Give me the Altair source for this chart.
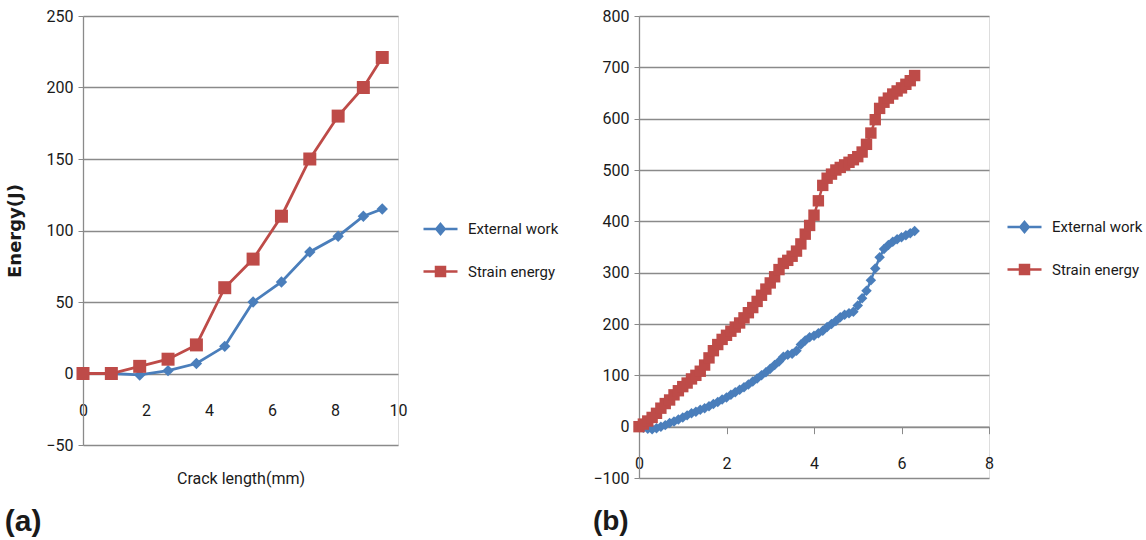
import altair as alt
import pandas as pd

SERIES = ["External work", "Strain energy"]
COLORS = ["#4A7EBB", "#BE4B48"]

# Panel (a)
A_X = [0, 0.9, 1.8, 2.7, 3.6, 4.5, 5.4, 6.3, 7.2, 8.1, 8.9, 9.5]
A_EXT = [0, 0, -1, 2, 7, 19, 50, 64, 85, 96, 110, 115]
A_STR = [0, 0, 5, 10, 20, 60, 80, 110, 150, 180, 200, 221]
A_XTICKS = [0, 2, 4, 6, 8, 10]
A_YTICKS = [-50, 0, 50, 100, 150, 200, 250]

# Panel (b)
B_X = [0.0, 0.1, 0.2, 0.3, 0.4, 0.5, 0.6, 0.7, 0.8, 0.9,
       1.0, 1.1, 1.2, 1.3, 1.4, 1.5, 1.6, 1.7, 1.8, 1.9,
       2.0, 2.1, 2.2, 2.3, 2.4, 2.5, 2.6, 2.7, 2.8, 2.9,
       3.0, 3.1, 3.2, 3.3, 3.4, 3.5, 3.6, 3.7, 3.8, 3.9,
       4.0, 4.1, 4.2, 4.3, 4.4, 4.5, 4.6, 4.7, 4.8, 4.9,
       5.0, 5.1, 5.2, 5.3, 5.4, 5.5, 5.6, 5.7, 5.8, 5.9,
       6.0, 6.1, 6.2, 6.3]
B_EXT = [0, -2, -4, -5, -3, 0, 3, 7, 10, 14,
         18, 22, 26, 29, 33, 36, 40, 44, 48, 53,
         57, 62, 67, 72, 77, 82, 88, 94, 100, 106,
         113, 120, 127, 136, 140, 142, 148, 160, 168, 174,
         177, 182, 187, 194, 200, 206, 213, 218, 221, 224,
         236, 250, 265, 285, 308, 330, 346, 354, 360, 365,
         369, 373, 377, 381]
B_STR = [0, 5, 11, 18, 26, 36, 45, 52, 62, 70,
         78, 85, 93, 100, 108, 120, 134, 148, 160, 170,
         178, 186, 194, 202, 212, 222, 232, 244, 256, 268,
         280, 292, 306, 318, 324, 332, 342, 356, 375, 392,
         412, 440, 470, 484, 492, 500, 505, 510, 515, 520,
         526, 535, 550, 572, 598, 620, 632, 640, 648, 654,
         660, 667, 674, 684]
B_XTICKS = [0, 2, 4, 6, 8]
B_YTICKS = [-100, 0, 100, 200, 300, 400, 500, 600, 700, 800]

FONT = "Roboto"
TXT = "#1a1a1a"
GRID = "#8a8a8a"
LEG_PATHS = [
    "M-1.7,0H1.7M0,-0.5L0.42,0L0,0.5L-0.42,0Z",
    "M-1.7,0H1.7M-0.45,-0.45H0.45V0.45H-0.45Z",
]


def long_df(xs, ext, stn):
    rows = [{"x": x, "y": y, "series": SERIES[0]} for x, y in zip(xs, ext)]
    rows += [{"x": x, "y": y, "series": SERIES[1]} for x, y in zip(xs, stn)]
    return pd.DataFrame(rows)


def panel(df, w, h, xdom, ydom, xaxis, yaxis, sizes, lw, legx, legy, label, ldx, loff, lfs):
    base = alt.Chart(df)
    xenc = alt.X("x:Q", scale=alt.Scale(domain=xdom, nice=False, zero=False), axis=xaxis)
    yenc = alt.Y("y:Q", scale=alt.Scale(domain=ydom, nice=False, zero=False), axis=yaxis)
    layers = []
    for s, c, shp, sz in zip(SERIES, COLORS, ["diamond", "square"], sizes):
        sub = base.transform_filter(alt.datum.series == s)
        layers.append(sub.mark_line(color=c, strokeWidth=lw).encode(x=xenc, y=yenc))
        layers.append(sub.mark_point(filled=True, shape=shp, size=sz, color=c, opacity=1)
                      .encode(x=xenc, y=yenc))
    leg = alt.Legend(title=None, orient="none", legendX=legx, legendY=legy,
                     symbolSize=400, symbolStrokeWidth=2.5, symbolOffset=0,
                     labelFont=FONT, labelFontSize=15, labelColor=TXT,
                     labelOffset=16, rowPadding=20.5, padding=0)
    sc = alt.Scale(domain=SERIES, range=COLORS)
    layers.append(
        base.transform_filter("false").mark_point(filled=True, opacity=1).encode(
            x=xenc, y=yenc,
            fill=alt.Fill("series:N", scale=sc, legend=leg),
            stroke=alt.Stroke("series:N", scale=sc, legend=leg),
            shape=alt.Shape("series:N", scale=alt.Scale(domain=SERIES, range=LEG_PATHS), legend=leg),
        )
    )
    return alt.layer(*layers).properties(
        width=w, height=h,
        title=alt.TitleParams(label, orient="bottom", anchor="start", frame="bounds",
                              font="Liberation Sans", fontWeight="bold", fontSize=lfs,
                              color=TXT, dx=ldx, offset=loff),
    )


common_axis = dict(labelFont=FONT, labelFontSize=16, labelColor=TXT,
                   labelFlush=False, labelOverlap=False)

a_h = 429
a_x_axis = alt.Axis(values=A_XTICKS, grid=False, domain=False, ticks=False, tickSize=0,
                    offset=-a_h * 50 / 300, labelPadding=29,
                    title="Crack length(mm)", titleFont=FONT, titleFontSize=16,
                    titleFontWeight="normal", titleColor=TXT, titlePadding=52, **common_axis)
a_y_axis = alt.Axis(values=A_YTICKS, grid=True, gridColor=GRID, gridWidth=1.3,
                    domainColor=GRID, domainWidth=1.3, tickColor=GRID, tickSize=5, labelPadding=5,
                    title="Energy(J)", titleFont="DejaVu Sans", titleFontWeight="bold",
                    titleFontSize=18, titleColor=TXT, titlePadding=21, **common_axis)

b_h = 462
b_x_axis = alt.Axis(values=B_XTICKS, grid=False, domain=True, domainColor=GRID, domainWidth=1.3,
                    ticks=True, tickSize=7, tickColor=GRID, offset=-b_h * 100 / 900,
                    labelPadding=22, title=None, **common_axis)
b_y_axis = alt.Axis(values=B_YTICKS, grid=True, gridColor=GRID, gridWidth=1.3,
                    domainColor=GRID, domainWidth=1.3, tickColor=GRID, tickSize=5, labelPadding=5,
                    title=None, **common_axis)

pa = panel(long_df(A_X, A_EXT, A_STR), 315, a_h, [0, 10], [-50, 250], a_x_axis, a_y_axis,
           [130, 169], 2.8, 346, 201.5, "(a)", -2, 20, 30)
pb = panel(long_df(B_X, B_EXT, B_STR), 350, b_h, [0, 8], [-100, 800], b_x_axis, b_y_axis,
           [110, 130], 2.5, 374, 199.5, "(b)", 0, 22, 28)

chart = alt.hconcat(pa, pb, spacing=32).resolve_scale(
    fill="independent", stroke="independent", shape="independent"
).resolve_legend(
    fill="independent", stroke="independent", shape="independent"
).properties(
    padding={"left": 4, "top": 7, "right": 0, "bottom": 0}
).configure_view(stroke=None).configure(background="white")

chart.save("out.html", embed_options={"renderer": "svg", "actions": False})
